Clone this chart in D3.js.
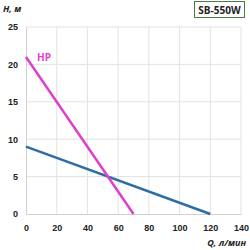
<!DOCTYPE html>
<html>
<head>
<meta charset="utf-8">
<script src="https://cdn.jsdelivr.net/npm/d3@7"></script>
<style>
  body { margin: 0; background: #fff; }
  svg { display: block; font-family: "Open Sans", "DejaVu Sans", sans-serif; }
</style>
</head>
<body>
<div class="vis"></div>
<script>
// chart data
const xTicks = [0, 20, 40, 60, 80, 100, 120, 140]
const yTicks = [0, 5, 10, 15, 20, 25]
const curveQ = [0, 120]
const curveH = [9, 0]
const hpQ = [0, 70]
const hpH = [21, 0]

const W = 250, H = 250
const mLeft = 26, mRight = 241, mTop = 27, mBottom = 214

const svg = d3.select(".vis").append("svg").attr("width", W).attr("height", H)

let x = d3.scaleLinear().domain([0, 140]).range([mLeft, mRight])
let y = d3.scaleLinear().domain([0, 25]).range([mBottom, mTop])

// grid
svg.append("g").selectAll("line").data(xTicks.slice(1)).join("line")
    .attr("x1", d => x(d)).attr("x2", d => x(d))
    .attr("y1", mTop).attr("y2", mBottom)
    .attr("stroke", "#e2e2e2").attr("stroke-width", 1)
svg.append("g").selectAll("line").data(yTicks.slice(1)).join("line")
    .attr("x1", mLeft).attr("x2", mRight)
    .attr("y1", d => y(d)).attr("y2", d => y(d))
    .attr("stroke", "#e2e2e2").attr("stroke-width", 1)

// axes
svg.append("g")
    .attr("transform", `translate(0, ${mBottom})`)
    .call(d3.axisBottom(x).tickValues(xTicks).tickSize(0).tickPadding(11))
    .call(g => g.select(".domain").attr("stroke", "#d0d0d0"))
    .call(g => g.selectAll("text").style("font-size", "9px").style("font-weight", "bold").attr("fill", "#222"))

svg.append("g")
    .attr("transform", `translate(${mLeft}, 0)`)
    .call(d3.axisLeft(y).tickValues(yTicks).tickSize(0).tickPadding(8))
    .call(g => g.select(".domain").attr("stroke", "#d0d0d0"))
    .call(g => g.selectAll("text").style("font-size", "9px").style("font-weight", "bold").attr("fill", "#222"))

// lines
let line = d3.line().x(d => x(d[0])).y(d => y(d[1]))
svg.append("path")
    .datum(d3.zip(curveQ, curveH))
    .attr("d", line).attr("fill", "none")
    .attr("stroke", "#2e6da4").attr("stroke-width", 2.5)
svg.append("path")
    .datum(d3.zip(hpQ, hpH))
    .attr("d", line).attr("fill", "none")
    .attr("stroke", "#e03fcc").attr("stroke-width", 2.5)

// labels
svg.append("text").attr("x", 37).attr("y", 61).text("HP")
    .style("font-size", "10px").style("font-weight", "bold").attr("fill", "#e03fcc")

svg.append("text").attr("x", 3).attr("y", 12).text("H, м")
    .style("font-size", "9px").style("font-weight", "bold").style("font-style", "italic").attr("fill", "#222")

svg.append("text").attr("x", 246).attr("y", 246).attr("text-anchor", "end").text("Q, л/мин")
    .style("font-size", "9px").style("font-weight", "bold").style("font-style", "italic").attr("fill", "#222")

svg.append("rect").attr("x", 194.5).attr("y", 1.5).attr("width", 50).attr("height", 16)
    .attr("fill", "#fff").attr("stroke", "#4a7a4a").attr("stroke-width", 1)
svg.append("text").attr("x", 219.5).attr("y", 13.5).attr("text-anchor", "middle").text("SB-550W")
    .style("font-size", "10px").style("font-weight", "bold").attr("fill", "#222")
</script>
</body>
</html>
